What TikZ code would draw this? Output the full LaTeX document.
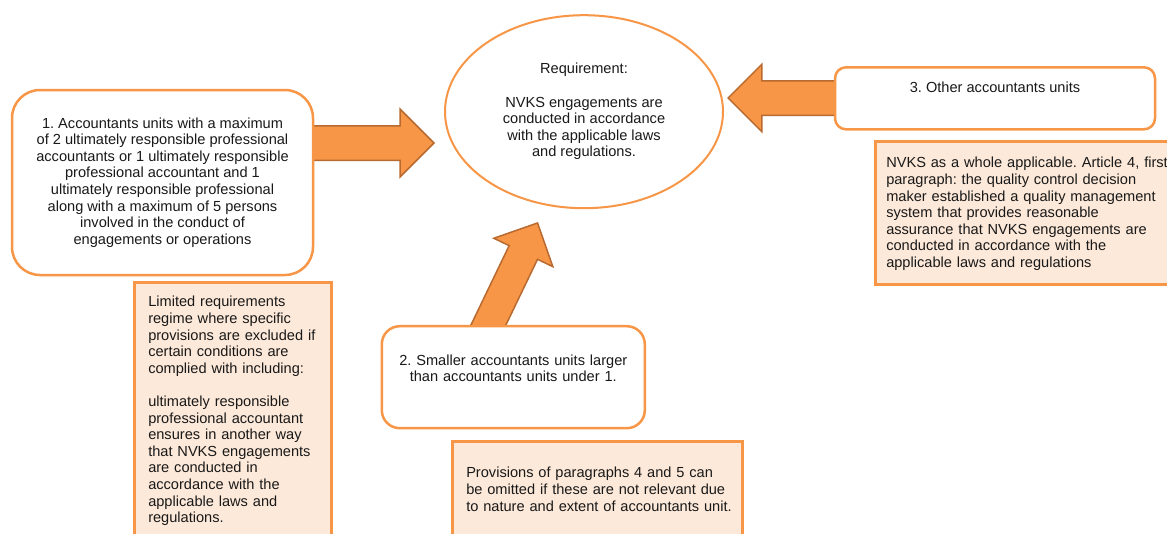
\documentclass[tikz,border=0pt]{standalone}
\usepackage{fontspec}
\setmainfont{Liberation Sans}
\usepackage{xcolor}
\usepackage{tikz}
\usetikzlibrary{shapes.geometric}
\usetikzlibrary{shapes.arrows}
\definecolor{accorange}{HTML}{F79646}
\definecolor{accdark}{HTML}{B86A30}
\definecolor{accpeach}{HTML}{FDE9D9}
\newcommand\txtsize{\fontsize{14.6}{16.6}\selectfont}
\frenchspacing

\begin{document}
\begin{tikzpicture}[x=1pt,y=-1pt,
  unitbox/.style={rectangle,draw=accorange,line width=2.5pt,fill=white,rounded corners=#1,align=center,font=\txtsize,text=black!90,inner sep=0pt},
  notebox/.style={rectangle,draw=accorange,line width=2.5pt,fill=accpeach,anchor=north west,align=left,font=\txtsize,text=black!90,inner sep=14pt},
  bigarrow/.style={single arrow,draw=accdark,fill=accorange,line width=1.5pt,anchor=tip,inner xsep=0pt,inner ysep=16.5pt,single arrow head extend=16.5pt}]
\useasboundingbox (0,0) rectangle (1167,533);
\clip (0,0) rectangle (1167,533);

%arrows
\node[bigarrow,minimum height=135pt] (arr1) at (435,143) {};
\node[bigarrow,minimum height=125pt,rotate=64.3,inner ysep=15pt,single arrow head extend=17pt] (arr2) at (538,222) {};
\node[bigarrow,minimum height=118pt,rotate=180] (arr3) at (727,98) {};

\node[ellipse,draw=accorange,line width=2pt,fill=white,minimum width=278pt,minimum height=193pt,align=center,font=\txtsize,text=black!90,inner sep=0pt] (req) at (584,111.7)
  {Requirement:\\[16.6pt]NVKS engagements are\\conducted in accordance\\with the applicable laws\\and regulations.};

%1
\node[unitbox=28pt,minimum width=301pt,minimum height=185pt] (box1) at (162.5,182.5)
  {1. Accountants units with a maximum\\of 2 ultimately responsible professional\\accountants or 1 ultimately responsible\\professional accountant and 1\\ultimately responsible professional\\along with a maximum of 5 persons\\involved in the conduct of\\engagements or operations};
\node[notebox,text width=169pt,text height=10.6pt,text depth=300pt] (note1) at (133,281)
  {Limited requirements\\regime where specific\\\mbox{provisions are excluded if}\\certain conditions are\\complied with including:\\[16.6pt]ultimately responsible\\professional accountant\\ensures in another way\\that NVKS engagements\\are conducted in\\accordance with the\\applicable laws and\\regulations.};

%2
\node[unitbox=18pt,minimum width=263pt,minimum height=102pt,text width=245pt,text height=10.6pt,text depth=35pt] (box2) at (513.3,377.2)
  {2. Smaller accountants units larger\\than accountants units under 1.};
\node[notebox,text width=262pt,text height=22.7pt,text depth=200pt] (note2) at (451,440)
  {Provisions of paragraphs 4 and 5 can\\\mbox{be omitted if these are not relevant due}\\\mbox{to nature and extent of accountants unit.}};

%3
\node[unitbox=11pt,minimum width=320pt,minimum height=62pt,text depth=22pt] (box3) at (995,98.3)
  {3. Other accountants units};
\node[notebox,inner xsep=11pt,text width=300pt,text height=12.7pt,text depth=102.3pt] (note3) at (874,140)
  {NVKS as a whole applicable. Article 4, first\\paragraph: the quality control decision\\maker established a quality management\\system that provides reasonable\\assurance that NVKS engagements are\\conducted in accordance with the\\applicable laws and regulations};

\end{tikzpicture}
\end{document}
